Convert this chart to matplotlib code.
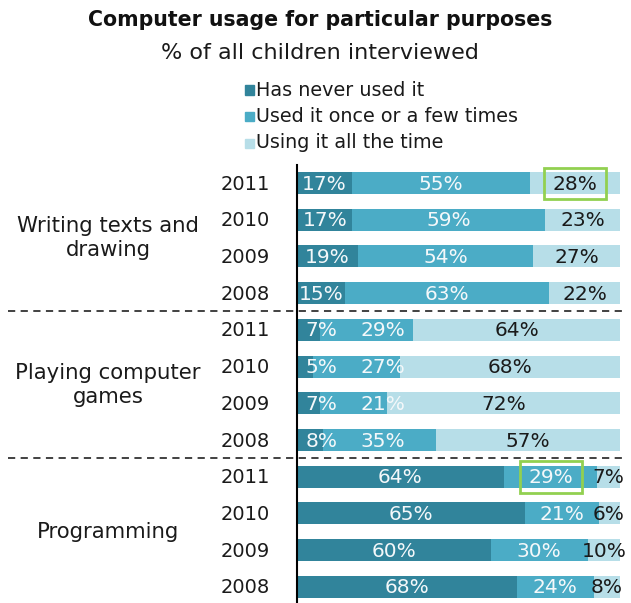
import matplotlib.pyplot as plt
import matplotlib.patches as mpatches
import numpy as np

title = "Computer usage for particular purposes"
subtitle = "% of all children interviewed"

groups = ["Writing texts and\ndrawing", "Playing computer\ngames", "Programming"]
years = ["2011", "2010", "2009", "2008"]
series = ["Has never used it", "Used it once or a few times", "Using it all the time"]

# rows: writing 2011..2008, games 2011..2008, programming 2011..2008
never = [17, 17, 19, 15, 7, 5, 7, 8, 64, 65, 60, 68]
once = [55, 59, 54, 63, 29, 27, 21, 35, 29, 21, 30, 24]
always = [28, 23, 27, 22, 64, 68, 72, 57, 7, 6, 10, 8]

# highlighted labels (row, series index)
highlights = [(0, 2), (8, 1)]

colors = ["#31849b", "#4bacc6", "#b7dee8"]
text_colors = ["#f4f8fa", "#f4f8fa", "#1a1a1a"]

fig = plt.figure(figsize=(6.31, 6.03), dpi=100)
ax = fig.add_axes([297 / 631, 0, 323 / 631, (603 - 165) / 603])

vals = np.array([never, once, always], dtype=float)
share = vals / vals.sum(axis=0) * 100
rows = np.arange(len(never))
left = np.zeros(len(never))

label_x = []
for i in range(3):
    ax.barh(rows, share[i], left=left, height=0.6, color=colors[i], linewidth=0)
    x = left + share[i] / 2
    if i == 0:
        x = np.maximum(x, 7.5)
    elif i == 1:
        # push past the small first-segment labels
        x = np.maximum(x, label_x[0] + 19)
    else:
        x = np.minimum(x, 96.5)
    label_x.append(x)
    for r in rows:
        ax.text(x[r], r + 0.03, "%d%%" % vals[i][r], ha="center", va="center",
                fontsize=14.5, color=text_colors[i])
    left = left + share[i]

for r, s in highlights:
    ax.add_patch(mpatches.Rectangle((label_x[s][r] - 9.6, r - 0.42), 19.2, 0.86,
                                    fill=False, edgecolor="#92d050", linewidth=2))

ax.set_xlim(0, 100)
ax.set_ylim(11.44, -0.49)
ax.axis("off")
ax.plot([0, 0], [-0.49, 11.44], color="black", linewidth=1.5, clip_on=False)

for y in [3.5, 7.5]:
    ax.plot([-89.5, 101.5], [y, y], color="#333333", linestyle=(0, (4, 3)),
            linewidth=1.3, clip_on=False)

for r in rows:
    ax.text(-8.4, r + 0.03, years[r % 4], ha="right", va="center", fontsize=14,
            color="#1a1a1a")

for g, name in enumerate(groups):
    ax.text(-58.5, g * 4 + 1.5, name, ha="center", va="center", fontsize=15.3,
            color="#1a1a1a", linespacing=1.3)

fig.text(0.507, 1 - 20 / 603, title, ha="center", va="center", fontsize=14.8,
         fontweight="bold", color="#111111")
fig.text(0.507, 1 - 53 / 603, subtitle, ha="center", va="center", fontsize=16,
         color="#1a1a1a")

for i, name in enumerate(series):
    yc = 1 - (90 + i * 26.5) / 603
    fig.patches.append(mpatches.Rectangle((245 / 631, yc - 4.5 / 603), 9 / 631, 9 / 603,
                                          transform=fig.transFigure, color=colors[i]))
    fig.text(256 / 631, yc, name, ha="left", va="center", fontsize=13.8, color="#1a1a1a")

fig.savefig("out.png", dpi=100)
